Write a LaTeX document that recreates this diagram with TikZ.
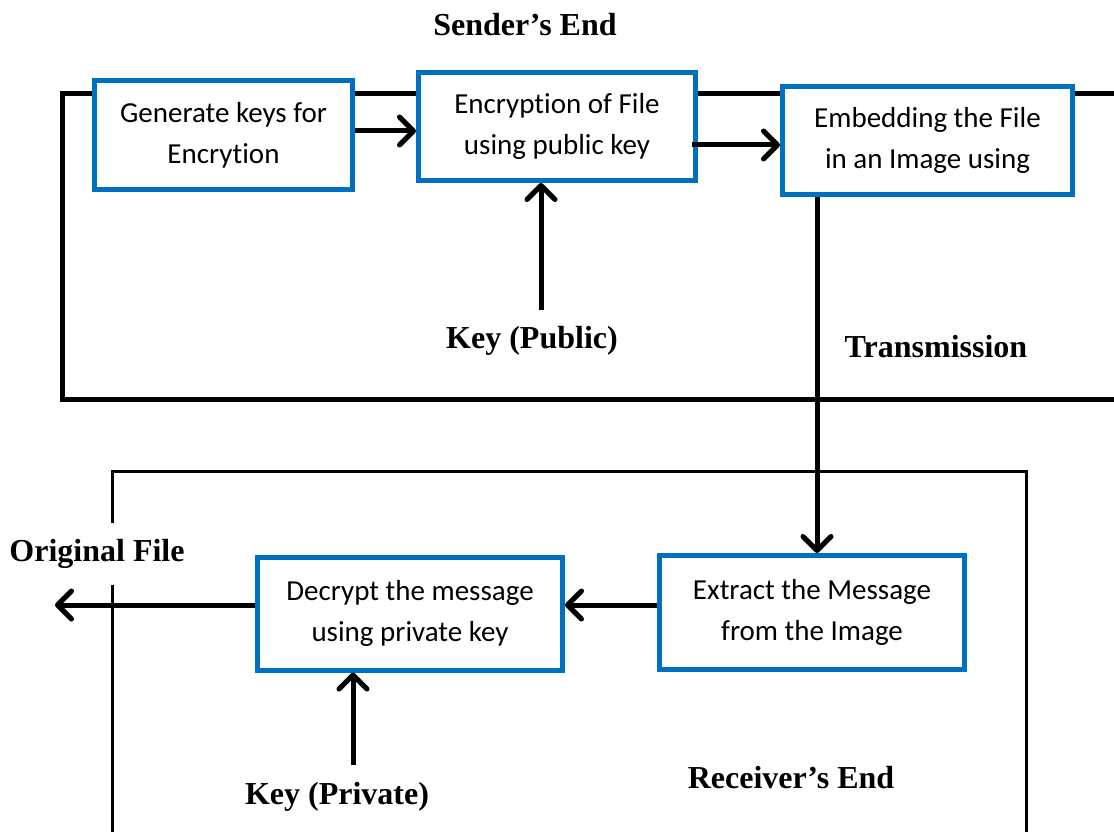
\documentclass[tikz,border=0pt]{standalone}
\usepackage{fontspec}
\setmainfont{Liberation Serif}
\newfontfamily\boxfont[Ligatures=NoCommon]{Carlito}
\usetikzlibrary{arrows.meta}
\definecolor{boxblue}{HTML}{0070C0}

\begin{document}
\begin{tikzpicture}[x=1pt, y=-1pt, ->, >={Straight Barb[length=14pt,width=28pt,round]}, line width=5pt,
        box node/.style={draw=boxblue, fill=white, line width=5pt, align=center, inner sep=0pt,
            font=\boxfont\fontsize{29}{41}\selectfont},
        label node/.style={font=\bfseries\fontsize{32}{38}\selectfont, inner sep=2pt}]
    \useasboundingbox (0,0) rectangle (1114,832);
    \clip (0,0) rectangle (1114,832);

    % Ramki
    \draw[-] (1120,94) -- (62,94) -- (62,399) -- (1120,399);
    \draw[-, line width=3pt] (112,840) -- (112,471) -- (1026,471) -- (1026,840);

    % Bloki
    \node[box node, minimum width=258pt, minimum height=109pt] (1) at (223.5,135) {Generate keys for\\Encrytion};
    \node[box node, minimum width=277pt, minimum height=108pt] (2) at (557,126.5) {Encryption of File\\using public key};
    \node[box node, minimum width=290pt, minimum height=108pt] (3) at (927.5,140.5) {Embedding the File\\in an Image using};
    \node[box node, minimum width=305pt, minimum height=113pt] (4) at (410,613.5) {Decrypt the message\\using private key};
    \node[box node, minimum width=305pt, minimum height=114pt] (5) at (812,612.5) {Extract the Message\\from the Image};

    % Etykiety
    \node[label node] (send) at (525,25) {Sender’s End};
    \node[label node] (kpub) at (532,341) {Key (Public)};
    \node[label node] (trans) at (936,347) {Transmission};
    \node[label node, fill=white, inner ysep=16pt] (orig) at (97,554) {Original File};
    \node[label node] (kpriv) at (337,797) {Key (Private)};
    \node[label node] (recv) at (791,778) {Receiver’s End};

    \coordinate (cpub) at (541,310);
    \coordinate (cpriv) at (353,765);
    \coordinate (cout) at (55,605);

    % Strzalki
    \path ([yshift=4pt]1.east) edge[] ([yshift=-4.5pt]2.west);
    \path ([xshift=-6pt, yshift=-18.5pt]2.east) edge[] ([yshift=-4.5pt]3.west);
    \path (cpub) edge[] (cpub |- 2.south);
    \path ([xshift=-110.5pt]3.south) edge[] ([xshift=5pt]5.north);
    \path ([yshift=7.5pt]5.west) edge[] ([yshift=8.5pt]4.east);
    \path ([yshift=8.5pt]4.west) edge[] (cout);
    \path (cpriv) edge[] (cpriv |- 4.south);
\end{tikzpicture}
\end{document}
